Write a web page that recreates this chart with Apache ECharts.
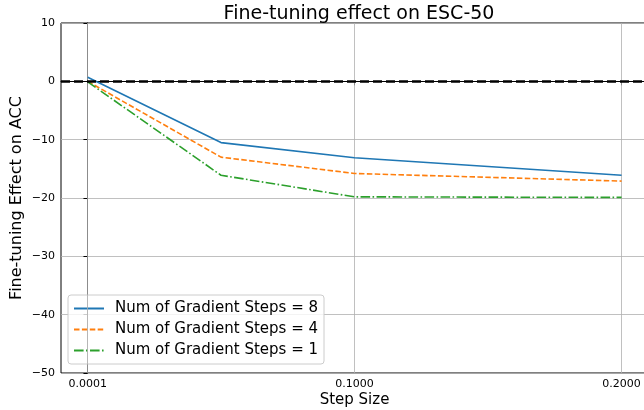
<!DOCTYPE html>
<html><head><meta charset="utf-8">
<script src="https://cdn.jsdelivr.net/npm/echarts@6/dist/echarts.min.js"></script>
<style>html,body{margin:0;padding:0;background:#fff}#c{width:644px;height:410px}</style>
</head><body><div id="c"></div>
<script>
const stepSizes = [0.0001, 0.05, 0.1, 0.2];
const steps8 = [0.7, -10.5, -13.1, -16.1];
const steps4 = [0.0, -13.0, -15.8, -17.1];
const steps1 = [-0.1, -16.1, -19.8, -19.9];
const xTicks = [0.0001, 0.1, 0.2];
const seriesNames = ['Num of Gradient Steps = 8', 'Num of Gradient Steps = 4', 'Num of Gradient Steps = 1'];

const F = 'DejaVu Sans';
const pair = arr => stepSizes.map((x, i) => [x, arr[i]]);
const chart = echarts.init(document.getElementById('c'), null, {renderer: 'canvas'});
chart.setOption({
  animation: false,
  backgroundColor: '#fff',
  title: {text: 'Fine-tuning effect on ESC-50', left: 354, textAlign: 'center', top: 0,
    textStyle: {fontFamily: F, fontSize: 19, fontWeight: 'normal', color: '#000'}},
  grid: {left: 61, right: -4, top: 23, bottom: 37, show: true, borderColor: '#000', borderWidth: 1,
    containLabel: false, outerBoundsMode: 'none'},
  legend: {
    left: 68, top: 295, orient: 'vertical', itemWidth: 30, itemHeight: 10, itemGap: 6,
    padding: [6, 6, 6, 5], borderColor: '#ccc', borderWidth: 1, borderRadius: 3, backgroundColor: 'rgba(255,255,255,0.8)',
    textStyle: {fontFamily: F, fontSize: 15, color: '#000', padding: [0, 0, 0, 6]},
    itemStyle: {opacity: 0},
    data: seriesNames
  },
  xAxis: {
    type: 'value', min: -0.0099, max: 0.2099,
    name: 'Step Size', nameLocation: 'middle', nameGap: 20, nameMoveOverlap: false,
    nameTextStyle: {fontFamily: F, fontSize: 15, color: '#000'},
    axisLine: {show: true, lineStyle: {color: '#000'}},
    axisTick: {show: true, length: 4, customValues: xTicks, lineStyle: {color: '#000'}},
    axisLabel: {customValues: xTicks, fontFamily: F, fontSize: 11, color: '#000', margin: 6,
      formatter: v => v.toFixed(4)},
    splitLine: {show: false}
  },
  yAxis: {
    type: 'value', min: -50, max: 10, interval: 10,
    name: 'Fine-tuning Effect on ACC', nameLocation: 'middle', nameGap: 36, nameMoveOverlap: false,
    nameTextStyle: {fontFamily: F, fontSize: 16, color: '#000'},
    axisLine: {show: true, lineStyle: {color: '#000'}},
    axisTick: {show: true, length: 4, lineStyle: {color: '#000'}},
    axisLabel: {fontFamily: F, fontSize: 11, color: '#000', margin: 6,
      formatter: v => String(v).replace('-', '\u2212')},
    splitLine: {show: true, lineStyle: {color: '#b0b0b0', width: 0.8}}
  },
  series: [
    {name: seriesNames[0], type: 'line', data: pair(steps8), symbol: 'none', z: 5,
      lineStyle: {color: '#1f77b4', width: 1.6, type: 'solid'}, itemStyle: {color: '#1f77b4'},
      markLine: {silent: true, symbol: 'none', label: {show: false},
        lineStyle: {color: '#b0b0b0', width: 0.8, type: 'solid'},
        data: xTicks.map(x => ({xAxis: x}))}},
    {name: seriesNames[1], type: 'line', data: pair(steps4), symbol: 'none', z: 5,
      lineStyle: {color: '#ff7f0e', width: 1.6, type: [5.5, 2.4]}, itemStyle: {color: '#ff7f0e'}},
    {name: seriesNames[2], type: 'line', data: pair(steps1), symbol: 'none', z: 5,
      lineStyle: {color: '#2ca02c', width: 1.6, type: [9.6, 2.4, 1.6, 2.4]}, itemStyle: {color: '#2ca02c'},
      markLine: {silent: true, symbol: 'none', label: {show: false}, z: 6,
        lineStyle: {color: '#000', width: 2.5, type: [9, 4]},
        emphasis: {lineStyle: {width: 2.5}},
        data: [{yAxis: 0, lineStyle: {color: '#000', width: 2.5, type: [9, 4]}}]}}
  ]
});
</script></body></html>
